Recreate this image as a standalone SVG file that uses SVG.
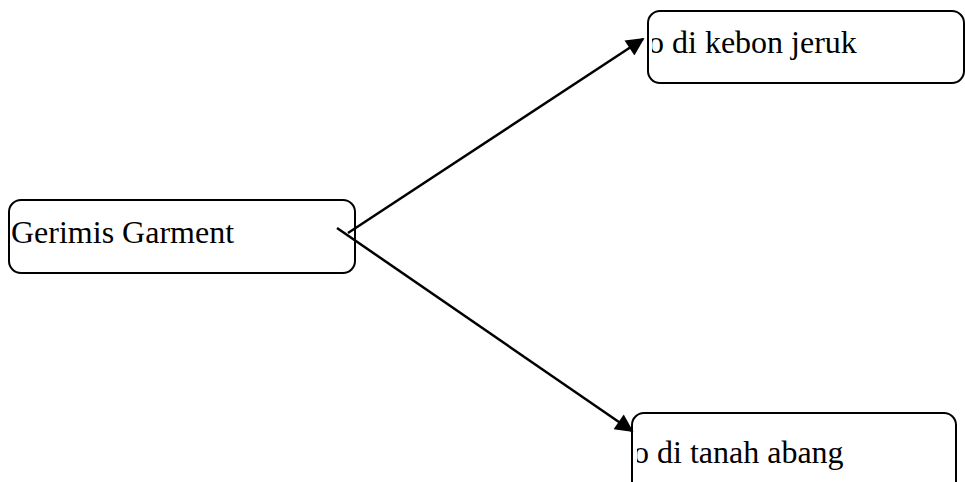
<svg xmlns="http://www.w3.org/2000/svg" width="965" height="482" viewBox="0 0 965 482">
<style>
.box{fill:#fff;stroke:#000;stroke-width:2}
.lbl{font-family:"Liberation Serif","Times New Roman",serif;font-size:32px;fill:#000}
.edge{stroke:#000;stroke-width:2.5;fill:none}
</style>
<defs>
<marker id="arr" viewBox="0 0 10 10" refX="9" refY="5" markerWidth="9" markerHeight="9" markerUnits="userSpaceOnUse" orient="auto"><path d="M0,0 L10,5 L0,10 z" fill="#000"/></marker>
<marker id="arr2" viewBox="0 0 10 10" refX="9" refY="5" markerWidth="22" markerHeight="18" markerUnits="userSpaceOnUse" orient="auto"><path d="M0,0 L10,5 L0,10 z" fill="#000"/></marker>
<clipPath id="c1"><rect x="652" y="0" width="313" height="100"/></clipPath>
<clipPath id="c2"><rect x="637" y="400" width="328" height="82"/></clipPath>
</defs>
<g id="n-gerimis">
<rect class="box" x="9" y="200" width="346" height="73" rx="12"/>
<text class="lbl" x="11" y="243">Gerimis Garment</text>
</g>
<g id="n-kebon">
<rect class="box" x="648" y="11" width="316" height="72" rx="12"/>
<text class="lbl" x="648" y="53" clip-path="url(#c1)">o di kebon jeruk</text>
</g>
<g id="n-tanah">
<rect class="box" x="632" y="413" width="324" height="80" rx="12"/>
<text class="lbl" x="633" y="463" clip-path="url(#c2)">o di tanah abang</text>
</g>
<g id="edges">
<line class="edge" x1="348" y1="233" x2="643" y2="39" marker-end="url(#arr2)"/>
<line class="edge" x1="337" y1="228" x2="632" y2="431" marker-end="url(#arr2)"/>
</g>
</svg>
